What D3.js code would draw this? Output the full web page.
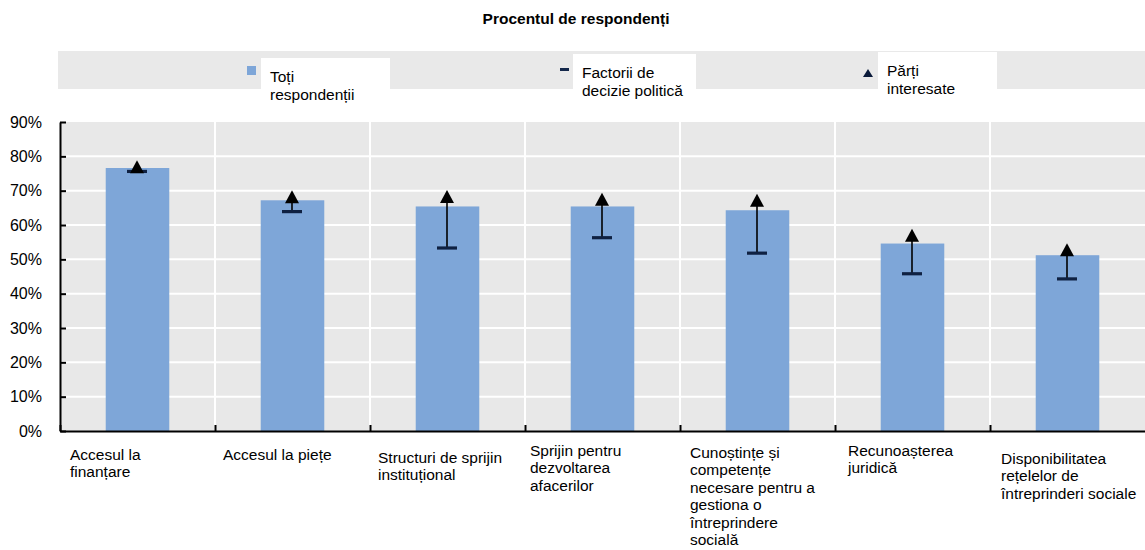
<!DOCTYPE html>
<html>
<head>
<meta charset="utf-8">
<script src="https://cdn.jsdelivr.net/npm/d3@7"></script>
<style>
  body { margin: 0; background: #fff; }
  svg text { font-family: "Liberation Sans", Arial, sans-serif; fill: #000; }
</style>
</head>
<body>
<script>
const width = 1145;
const height = 550;

// Data
const categories = [
  "Accesul la finanțare",
  "Accesul la piețe",
  "Structuri de sprijin instituțional",
  "Sprijin pentru dezvoltarea afacerilor",
  "Cunoștințe și competențe necesare pentru a gestiona o întreprindere socială",
  "Recunoașterea juridică",
  "Disponibilitatea rețelelor de întreprinderi sociale",
];
const categoryLines = [
  ["Accesul la", "finanțare"],
  ["Accesul la piețe"],
  ["Structuri de sprijin", "instituțional"],
  ["Sprijin pentru", "dezvoltarea", "afacerilor"],
  ["Cunoștințe și", "competențe", "necesare pentru a", "gestiona o", "întreprindere", "socială"],
  ["Recunoașterea", "juridică"],
  ["Disponibilitatea", "rețelelor de", "întreprinderi sociale"],
];
const allRespondents = [0.766, 0.672, 0.654, 0.654, 0.643, 0.546, 0.512];
const policyMakers = [0.756, 0.639, 0.533, 0.563, 0.518, 0.458, 0.443];
const stakeholders = [0.770, 0.682, 0.683, 0.675, 0.672, 0.570, 0.528];
const yTicks = [0, 0.1, 0.2, 0.3, 0.4, 0.5, 0.6, 0.7, 0.8, 0.9];
const legendLabels = [
  ["Toți", "respondenții"],
  ["Factorii de", "decizie politică"],
  ["Părți", "interesate"],
];
const title = "Procentul de respondenți";

// small text nudges for the category labels (dx, first baseline)
const labelNudge = [[10, 460], [8, 460], [8, 463], [5, 456], [10, 458], [13, 456], [11, 464]];

const barColor = "#7ea6d8";
const plotBg = "#e8e8e8";

const plotLeft = 60, plotRight = 1145, plotTop = 122, plotBottom = 431;

const svg = d3
  .select("body")
  .append("svg")
  .attr("width", width)
  .attr("height", height);

const y = d3.scaleLinear().domain([0, 0.9]).range([plotBottom, plotTop]);
const x = d3.scaleBand().domain(categories).range([plotLeft, plotRight]);
const xBar = d3
  .scaleBand()
  .domain(categories)
  .range([plotLeft, plotRight])
  .paddingInner(0.59)
  .paddingOuter(0.295);
const xEdge = d3.scaleLinear().domain([0, categories.length]).range([plotLeft, plotRight]);

// Title
svg
  .append("text")
  .attr("x", 576)
  .attr("y", 24)
  .attr("text-anchor", "middle")
  .style("font-size", "15.5px")
  .style("font-weight", "bold")
  .text(title);

// Legend band
svg
  .append("rect")
  .attr("x", 58)
  .attr("y", 51)
  .attr("width", plotRight - 58)
  .attr("height", 38)
  .attr("fill", "#e9e9e9");

const legendItems = [
  { box: [261, 58, 129, 45], tx: 270, ty: 82 },
  { box: [573, 54, 123, 45], tx: 582, ty: 78 },
  { box: [878, 52, 119, 45], tx: 887, ty: 76 },
];
legendItems.forEach((it, i) => {
  svg
    .append("rect")
    .attr("x", it.box[0])
    .attr("y", it.box[1])
    .attr("width", it.box[2])
    .attr("height", it.box[3])
    .attr("fill", "#fff");
  const t = svg
    .append("text")
    .attr("x", it.tx)
    .attr("y", it.ty)
    .style("font-size", "15.5px");
  legendLabels[i].forEach((line, j) => {
    t.append("tspan").attr("x", it.tx).attr("dy", j === 0 ? 0 : 17.5).text(line);
  });
});
svg.append("rect").attr("x", 247).attr("y", 66).attr("width", 9).attr("height", 9).attr("fill", barColor);
svg.append("rect").attr("x", 560).attr("y", 68).attr("width", 9).attr("height", 3).attr("fill", "#14284b");
svg.append("path").attr("d", "M868,69 L873,77 L863,77 Z").attr("fill", "#0a1a3a");

// Plot background and grid
svg
  .append("rect")
  .attr("x", plotLeft)
  .attr("y", plotTop)
  .attr("width", plotRight - plotLeft)
  .attr("height", plotBottom - plotTop)
  .attr("fill", plotBg);

svg
  .append("g")
  .selectAll("line")
  .data(yTicks.slice(1, -1))
  .join("line")
  .attr("x1", plotLeft)
  .attr("x2", plotRight)
  .attr("y1", (d) => y(d))
  .attr("y2", (d) => y(d))
  .attr("stroke", "#fff")
  .attr("stroke-width", 2);

svg
  .append("g")
  .selectAll("line")
  .data(d3.range(1, categories.length))
  .join("line")
  .attr("x1", (d) => xEdge(d))
  .attr("x2", (d) => xEdge(d))
  .attr("y1", plotTop)
  .attr("y2", plotBottom)
  .attr("stroke", "#fff")
  .attr("stroke-width", 2);

// Bars
svg
  .append("g")
  .selectAll("rect")
  .data(categories)
  .join("rect")
  .attr("x", (d) => xBar(d))
  .attr("width", xBar.bandwidth())
  .attr("y", (d, i) => y(allRespondents[i]))
  .attr("height", (d, i) => y(0) - y(allRespondents[i]))
  .attr("fill", barColor);

// Connecting lines, policy makers dash, stakeholders triangle
const cx = (d) => x(d) + x.bandwidth() / 2 - 0.5;
svg
  .append("g")
  .selectAll("line")
  .data(categories)
  .join("line")
  .attr("x1", cx)
  .attr("x2", cx)
  .attr("y1", (d, i) => y(policyMakers[i]))
  .attr("y2", (d, i) => y(stakeholders[i]))
  .attr("stroke", "#000")
  .attr("stroke-width", 1.6);

svg
  .append("g")
  .selectAll("line")
  .data(categories)
  .join("line")
  .attr("x1", (d) => cx(d) - 10)
  .attr("x2", (d) => cx(d) + 10)
  .attr("y1", (d, i) => y(policyMakers[i]))
  .attr("y2", (d, i) => y(policyMakers[i]))
  .attr("stroke", "#0f2142")
  .attr("stroke-width", 3.2);

svg
  .append("g")
  .selectAll("path")
  .data(categories)
  .join("path")
  .attr("transform", (d, i) => `translate(${cx(d)},${y(stakeholders[i])})`)
  .attr("d", "M0,-6.5 L7,6.5 L-7,6.5 Z")
  .attr("fill", "#000");

// Axes
const yAxis = svg
  .append("g")
  .attr("transform", `translate(${plotLeft},0)`)
  .call(
    d3
      .axisLeft(y)
      .tickValues(yTicks)
      .tickFormat(d3.format(".0%"))
      .tickSizeInner(-6)
      .tickSizeOuter(0)
      .tickPadding(18)
  );
yAxis.select(".domain").attr("stroke", "#000").attr("stroke-width", 2);
yAxis.selectAll(".tick line").attr("stroke", "#000").attr("stroke-width", 2);
yAxis.selectAll(".tick text").style("font-size", "16px").style("font-family", '"Liberation Sans", Arial, sans-serif');

const xAxis = svg
  .append("g")
  .attr("transform", `translate(0,${plotBottom})`)
  .call(
    d3
      .axisBottom(xEdge)
      .tickValues(d3.range(0, categories.length))
      .tickFormat("")
      .tickSizeInner(-6)
      .tickSizeOuter(0)
  );
xAxis.select(".domain").attr("stroke", "#000").attr("stroke-width", 2);
xAxis.selectAll(".tick line").attr("stroke", "#000").attr("stroke-width", 2);

// Category labels
categories.forEach((c, i) => {
  const x0 = x(c) + labelNudge[i][0];
  const t = svg
    .append("text")
    .attr("x", x0)
    .attr("y", labelNudge[i][1])
    .style("font-size", "15.5px");
  categoryLines[i].forEach((line, j) => {
    t.append("tspan").attr("x", x0).attr("dy", j === 0 ? 0 : 17.4).text(line);
  });
});
</script>
</body>
</html>
